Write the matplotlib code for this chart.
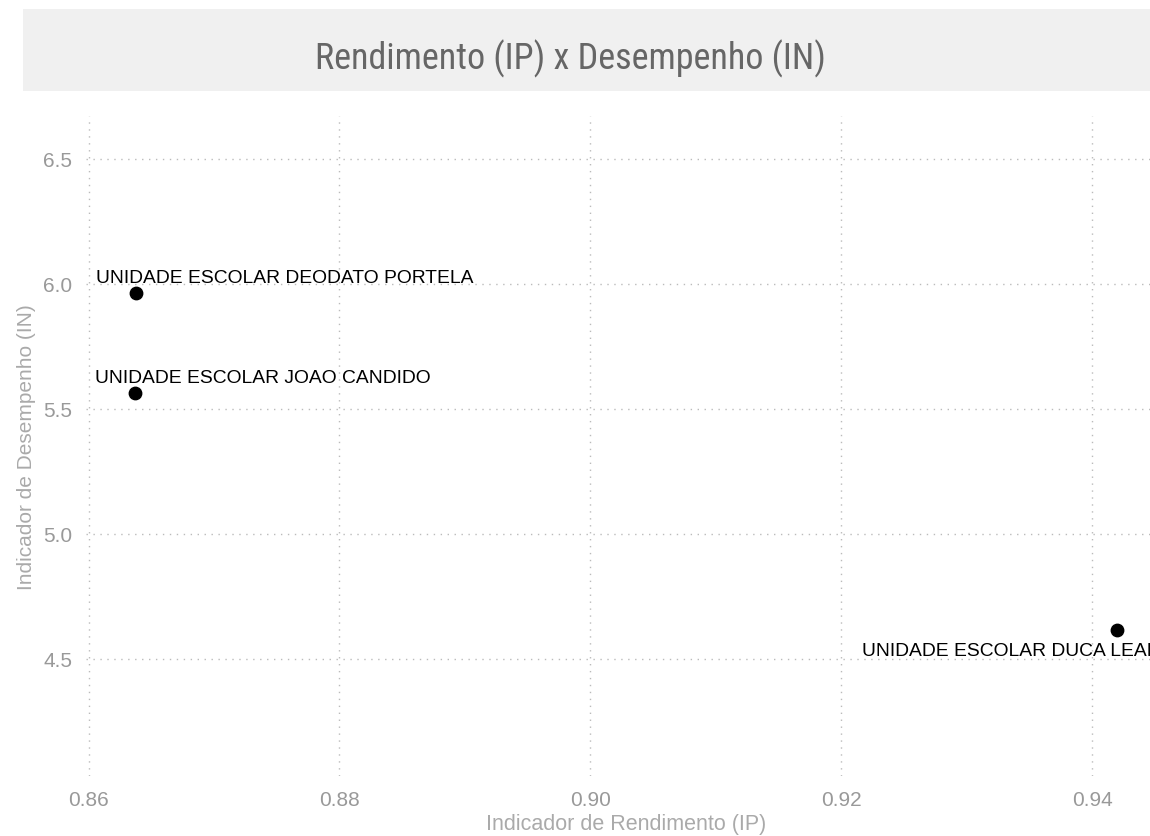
import matplotlib
matplotlib.use("Agg")
import matplotlib.pyplot as plt
from matplotlib.patches import Rectangle
from matplotlib import font_manager

schools = ["UNIDADE ESCOLAR DEODATO PORTELA", "UNIDADE ESCOLAR JOAO CANDIDO", "UNIDADE ESCOLAR DUCA LEAL"]
ip_values = [0.8638, 0.8637, 0.9420]
in_values = [5.964, 5.564, 4.616]
x_ticks = [0.86, 0.88, 0.90, 0.92, 0.94]
x_tick_labels = ["0.86", "0.88", "0.90", "0.92", "0.94"]
y_ticks = [4.5, 5.0, 5.5, 6.0, 6.5]
y_tick_labels = ["4.5", "5.0", "5.5", "6.0", "6.5"]

names = sorted({f.name for f in font_manager.fontManager.ttflist})
condensed = [n for n in names if ("Condensed" in n or "Narrow" in n)]
pref = [n for n in condensed if "Roboto" in n] + [n for n in condensed if "Sans" in n] + condensed
if pref:
    title_font, title_size = pref[0], 26
else:
    title_font, title_size = "Roboto", 21
plt.rcParams['font.family'] = ['Liberation Sans', 'DejaVu Sans']

fig = plt.figure(figsize=(11.5, 8.37), dpi=100)
fig.patches.append(Rectangle((23/1150, 1-92/837), 1-23/1150, 82/837,
                             transform=fig.transFigure, facecolor="#f0f0f0",
                             edgecolor="none", zorder=0))
fig.text(570/1150, 1-59/837, "Rendimento (IP) x Desempenho (IN)", ha="center", va="center",
         fontsize=title_size, color="#666666", family=[title_font, "DejaVu Sans"])

ax = fig.add_axes([86/1150, 1-777/837, 1-86/1150, (777-117)/837])
ax.scatter(ip_values, in_values, s=80, color="black", zorder=3)
ax.set_xlim(0.8598, 0.9446)
ax.set_ylim(4.032, 6.672)
ax.set_xticks(x_ticks)
ax.set_xticklabels(x_tick_labels)
ax.set_yticks(y_ticks)
ax.set_yticklabels(y_tick_labels)
ax.tick_params(length=0, labelsize=15, labelcolor="#999999", pad=10)
for s in ax.spines.values():
    s.set_visible(False)
ax.grid(True, linestyle=(0, (1, 4)), color="#bbbbbb", linewidth=1)
ax.set_axisbelow(True)
xl = ax.set_xlabel("Indicador de Rendimento (IP)", fontsize=15.5, color="#aaaaaa", labelpad=2)
ax.xaxis.set_label_coords(626/1150 * 1150/(1150-86) - 86/(1150-86), -0.07)
ax.xaxis.label.set_va("center")
ax.xaxis.set_label_coords((626-86)/(1150-86), -(825-777)/(777-117))
ax.set_ylabel("Indicador de Desempenho (IN)", fontsize=15, color="#aaaaaa", labelpad=5)

offsets = [(-29, 8, "left"), (-29, 8, "left"), (-184, -18, "left")]
for name, x, y, (dx, dy, ha) in zip(schools, ip_values, in_values, offsets):
    ax.annotate(name, (x, y), xytext=(dx, dy), textcoords="offset points",
                ha=ha, va="baseline", fontsize=13.85, color="black", annotation_clip=False,
                clip_on=True)

fig.savefig("out.png", dpi=100)
